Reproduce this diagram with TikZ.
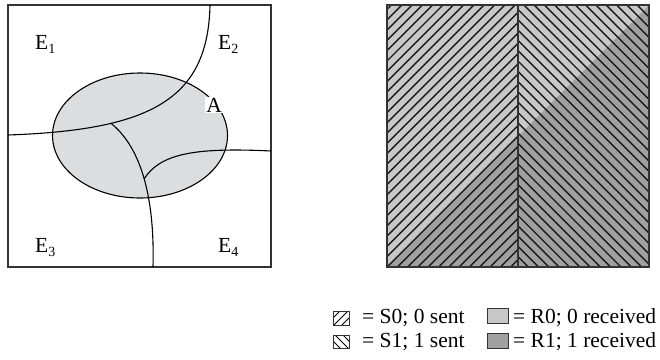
\documentclass[tikz,border=0pt]{standalone}
\usepackage{fontspec}
\setmainfont{Liberation Serif}
\definecolor{ellfill}{RGB}{220,221,223}
\definecolor{lightg}{RGB}{200,200,200}
\definecolor{darkg}{RGB}{160,160,160}
\newcommand{\esub}[1]{\raisebox{-4pt}{\fontsize{14}{14}\selectfont #1}}
\begin{document}
\begin{tikzpicture}[x=1pt,y=-1pt,
  lbl/.style={inner sep=0pt,font=\fontsize{21.5}{23}\selectfont},
  boxframe/.style={draw=black!80,line width=1.3pt},
  curve/.style={draw=black,line width=1.1pt},
  hatch/.style={draw=black!90,line width=1.4pt},
  keybox/.style={draw=black!80,line width=0.9pt}]
\useasboundingbox (0,0) rectangle (660,359);

% ---- left panel ----
\fill[ellfill] (140,135.5) ellipse [x radius=87.5pt, y radius=62.5pt];
\draw[boxframe] (8,5) rectangle (271,267);
\draw[curve] (210,5) .. controls (208,100) and (150,130) .. (8,135) coordinate[pos=0.71] (j1);
\draw[curve] (j1) .. controls (138,145) and (155,190) .. (153,267) coordinate[pos=0.53] (j2);
\draw[curve] (j2) .. controls (160,155) and (190,147) .. (271,151);
\draw[curve] (140,135.5) ellipse [x radius=87.5pt, y radius=62.5pt];

\node[lbl,anchor=base west] (e1) at (35,49) {E\esub{1}};
\node[lbl,anchor=base west] (e2) at (218,49) {E\esub{2}};
\node[lbl,anchor=base west] (e3) at (35,252) {E\esub{3}};
\node[lbl,anchor=base west] (e4) at (218,252) {E\esub{4}};
\node[lbl,anchor=base west,fill=white,inner sep=1.2pt] (a) at (205,112) {A};

% ---- right panel ----
\fill[lightg] (387,5) -- (649,5) -- (387,267) -- cycle;
\fill[darkg] (387,267) -- (649,5) -- (649,267) -- cycle;
\begin{scope}
  \clip (387,5) rectangle (518,267);
  \foreach \k in {0,...,40} \draw[hatch] ({654-10.3*25+10.3*\k},0) -- ++(-300,300);
\end{scope}
\begin{scope}
  \clip (518,5) rectangle (649,267);
  \foreach \k in {0,...,40} \draw[hatch] ({251+10.3*\k},0) -- ++(300,300);
\end{scope}
\draw[boxframe] (387,5) rectangle (649,267);
\draw[boxframe] (518,5) -- (518,267);

% ---- legend ----
\begin{scope}
  \clip (333,311) rectangle (349,325);
  \foreach \c in {651,659,667} \draw[line width=1pt] (\c,0) -- ++(-400,400);
\end{scope}
\draw[keybox] (333,311) rectangle (349,325);
\begin{scope}
  \clip (333,335) rectangle (349,348);
  \foreach \c in {-8,0,8} \draw[line width=1pt] ({\c},0) -- ++(400,400);
\end{scope}
\draw[keybox] (333,335) rectangle (349,348);
\filldraw[fill=lightg,keybox] (487,308) rectangle (508,323);
\filldraw[fill=darkg,keybox] (487,333) rectangle (508,348);

\node[lbl,anchor=base west] (s0) at (362,323) {= S0; 0 sent};
\node[lbl,anchor=base west] (s1) at (362,347) {= S1; 1 sent};
\node[lbl,anchor=base west] (r0) at (513,323) {= R0; 0 received};
\node[lbl,anchor=base west] (r1) at (513,347) {= R1; 1 received};
\end{tikzpicture}
\end{document}
